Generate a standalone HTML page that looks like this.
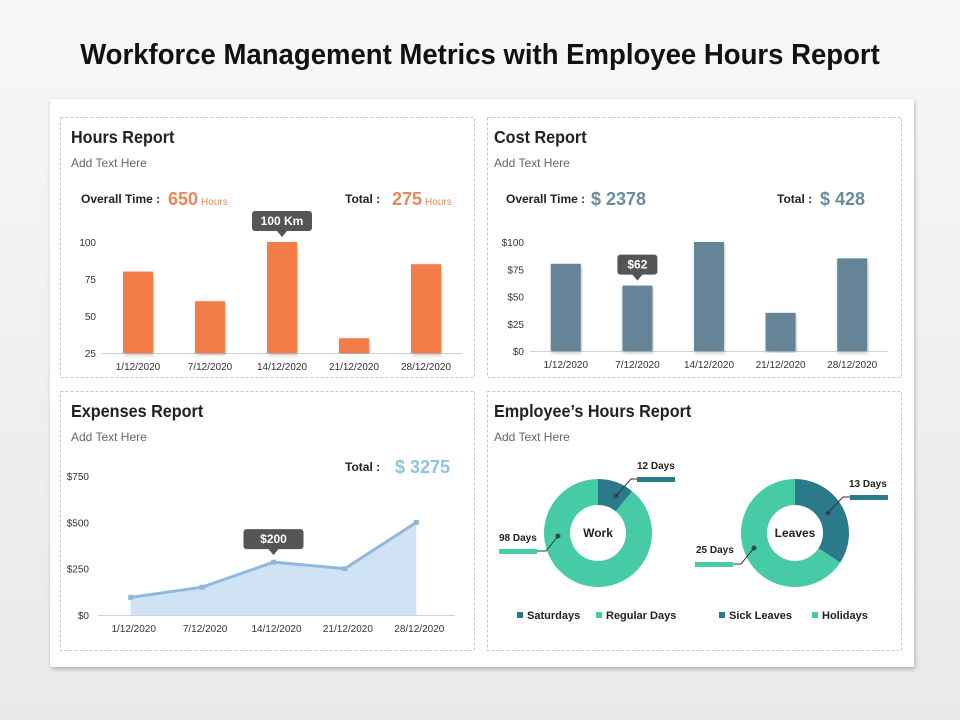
<!DOCTYPE html>
<html><head><meta charset="utf-8"><style>
body{margin:0;width:960px;height:720px;background:linear-gradient(#f7f7f7,#e9e9e9);font-family:"Liberation Sans",sans-serif;overflow:hidden}
svg{position:absolute;left:0;top:0}
</style></head><body>
<svg id="s" width="960" height="720" viewBox="0 0 960 720" font-family="Liberation Sans, sans-serif">
<defs><filter id="sh" x="-5%" y="-5%" width="110%" height="110%"><feDropShadow dx="1" dy="2" stdDeviation="2" flood-color="#000" flood-opacity="0.25"/></filter></defs>
<text x="480" y="64" text-anchor="middle" font-size="29" font-weight="bold" fill="#111" transform="translate(480 0) scale(0.95 1) translate(-480 0)">Workforce Management Metrics with Employee Hours Report</text>
<rect x="50" y="99" width="864" height="568" fill="#fff" filter="url(#sh)"/>
<g fill="none" stroke="#c8c8c8" stroke-dasharray="3,2">
<rect x="60.5" y="117.5" width="414" height="260"/>
<rect x="487.5" y="117.5" width="414" height="260"/>
<rect x="60.5" y="391.5" width="414" height="259"/>
<rect x="487.5" y="391.5" width="414" height="259"/>
</g>
<g font-weight="bold" font-size="18" fill="#222">
<text x="71" y="143" transform="translate(71 0) scale(0.9 1) translate(-71 0)">Hours Report</text>
<text x="494" y="143" transform="translate(494 0) scale(0.9 1) translate(-494 0)">Cost Report</text>
<text x="71" y="417" transform="translate(71 0) scale(0.9 1) translate(-71 0)">Expenses Report</text>
<text x="494" y="417" transform="translate(494 0) scale(0.9 1) translate(-494 0)">Employee’s Hours Report</text>
</g>
<g font-size="12" fill="#666">
<text x="71" y="167">Add Text Here</text>
<text x="494" y="167">Add Text Here</text>
<text x="71" y="441">Add Text Here</text>
<text x="494" y="441">Add Text Here</text>
</g>
<g font-size="12" font-weight="bold" fill="#222">
<text x="81" y="203">Overall Time :</text>
<text x="345" y="203">Total :</text>
<text x="506" y="203">Overall Time :</text>
<text x="777" y="203">Total :</text>
<text x="345" y="471">Total :</text>
</g>
<g font-weight="bold" font-size="18">
<text x="168" y="205" fill="#e8875a">650<tspan font-size="10" font-weight="normal" dx="3">Hours</tspan></text>
<text x="392" y="205" fill="#e8875a">275<tspan font-size="10" font-weight="normal" dx="3">Hours</tspan></text>
<text x="591" y="205" fill="#6a8a9e">$ 2378</text>
<text x="820" y="205" fill="#6a8a9e">$ 428</text>
<text x="395" y="473" fill="#8fc3e0">$ 3275</text>
</g>
<g id="charts"></g>
</svg>
<script>
const dates=["1/12/2020","7/12/2020","14/12/2020","21/12/2020","28/12/2020"];
const hoursValues=[80,60,100,35,85];
const hoursTicks=[25,50,75,100];
const costValues=[80,60,100,35,85];
const costTicks=[0,25,50,75,100];
const expenseValues=[95,150,285,250,500];
const expenseTicks=[0,250,500,750];
const workSlices=[12,98];
const leaveSlices=[13,25];
const NS="http://www.w3.org/2000/svg",G=document.getElementById("charts");
function mk(t,a,txt){const e=document.createElementNS(NS,t);for(const k in a)e.setAttribute(k,a[k]);if(txt!==undefined)e.textContent=txt;G.appendChild(e);return e;}
function callout(cx,tipY,label,w){
 const g=mk("path",{d:`M${cx-w/2} ${tipY-28}h${w}a3 3 0 0 1 3 3v14a3 3 0 0 1-3 3h-${w/2-5}l-5 6l-5-6h-${w/2-5}a3 3 0 0 1-3-3v-14a3 3 0 0 1 3-3z`,fill:"#555"});
 
 
 const t=mk("text",{x:cx,y:tipY-14,"text-anchor":"middle","font-size":12,"font-weight":"bold",fill:"#fff"},label);
 
 
}
function barChart(vals,ticks,min,max,y0,y1,x0,x1,color,tickFmt,prefix,calloutIdx,calloutLbl,cw){
 const ys=v=>y0-(v-min)/(max-min)*(y0-y1);
 const step=(x1-x0)/vals.length;
 const ax=mk("line",{x1:x0,x2:x1,y1:y0+0.5,y2:y0+0.5,stroke:"#d0d0d0"});
 
 
 ticks.forEach(t=>{const e=mk("text",{x:x0-6,y:ys(t)+4,"text-anchor":"end","font-size":10,fill:"#333"},tickFmt(t));
  
  });
 vals.forEach((v,i)=>{const cx=x0+step*(i+0.5);
  const r=mk("rect",{x:cx-15,y:ys(v),width:30,height:y0-ys(v),fill:color,filter:"url(#sh)"});
  
  
  const l=mk("text",{x:cx,y:y0+17,"text-anchor":"middle","font-size":10,fill:"#333"},dates[i]);
  
  
  if(i===calloutIdx)callout(cx,ys(v)-3,calloutLbl,cw);
 });
}
barChart(hoursValues,hoursTicks,25,100,353,242,102,462,"#f47c48",t=>t,"hours",2,"100 Km",54);
barChart(costValues,costTicks,0,100,351,242,530,888,"#658497",t=>"$"+t,"cost",1,"$62",34);
(function(){
 const y0=615,y1=476,x0=98,x1=455,step=(x1-x0)/expenseValues.length;
 const ys=v=>y0-v/750*(y0-y1),xs=i=>x0+step*(i+0.5)-3;
 const ax=mk("line",{x1:x0,x2:x1,y1:y0+0.5,y2:y0+0.5,stroke:"#d0d0d0"});
 
 
 expenseTicks.forEach(t=>{const e=mk("text",{x:89,y:ys(t)+4,"text-anchor":"end","font-size":10,fill:"#333"},"$"+t);
  
  });
 let pts=expenseValues.map((v,i)=>xs(i)+","+ys(v)).join(" ");
 const a=mk("polygon",{points:xs(0)+","+y0+" "+pts+" "+xs(4)+","+y0,fill:"#cfe3f5"});
 
 
 const l=mk("polyline",{points:pts,fill:"none",stroke:"#8fb8dc","stroke-width":3});
 
 
 expenseValues.forEach((v,i)=>{const p=mk("rect",{x:xs(i)-2.5,y:ys(v)-2.5,width:5,height:5,fill:"#8fb8dc"});
  
  
  const t=mk("text",{x:x0+step*(i+0.5),y:y0+17,"text-anchor":"middle","font-size":10,fill:"#333"},dates[i]);
  
  });
 callout(xs(2),ys(expenseValues[2])-5,"$200",54);
})();
function donut(cx,cy,vals,colors,center,prefix,labels){
 const tot=vals.reduce((a,b)=>a+b,0);let a0=-Math.PI/2;const R=54,r=28;
 vals.forEach((v,i)=>{const a1=a0+v/tot*2*Math.PI,lg=(a1-a0)>Math.PI?1:0;
  const P=(rr,a)=>[cx+rr*Math.cos(a),cy+rr*Math.sin(a)];
  const [x1,y1]=P(R,a0),[x2,y2]=P(R,a1),[x3,y3]=P(r,a1),[x4,y4]=P(r,a0);
  const s=mk("path",{d:`M${x1} ${y1}A${R} ${R} 0 ${lg} 1 ${x2} ${y2}L${x3} ${y3}A${r} ${r} 0 ${lg} 0 ${x4} ${y4}Z`,fill:colors[i]});
  
  
  a0=a1;});
 const t=mk("text",{x:cx,y:cy+4,"text-anchor":"middle","font-size":12,"font-weight":"bold",fill:"#222"},center);
 
 
 labels.forEach(L=>{
  mk("circle",{cx:L.dx,cy:L.dy,r:2.5,fill:"#2d4a55"});
  mk("polyline",{points:L.line,fill:"none",stroke:"#333","stroke-width":1});
  const b=mk("rect",{x:L.bx,y:L.by,width:38,height:5,fill:L.c});
  
  
  const e=mk("text",{x:L.tx,y:L.ty,"font-size":10,"font-weight":"bold",fill:"#222"},L.txt);
  
  
 });
}
donut(598,533,workSlices,["#2b7a8c","#46cba6"],"Work","work",[
 {dx:616,dy:496,line:"616,496 631,479 637,479",bx:637,by:477,c:"#2b7a8c",tx:637,ty:469,txt:workSlices[0]+" Days"},
 {dx:558,dy:536,line:"558,536 546,551 537,551",bx:499,by:549,c:"#46cba6",tx:499,ty:541,txt:workSlices[1]+" Days"}]);
donut(795,533,leaveSlices,["#2b7a8c","#46cba6"],"Leaves","leaves",[
 {dx:828,dy:513,line:"828,513 843,497 850,497",bx:850,by:495,c:"#2b7a8c",tx:849,ty:487,txt:leaveSlices[0]+" Days"},
 {dx:754,dy:548,line:"754,548 741,564 733,564",bx:695,by:562,c:"#46cba6",tx:696,ty:553,txt:leaveSlices[1]+" Days"}]);
[["Saturdays",517,"#2b7a8c"],["Regular Days",596,"#46cba6"],["Sick Leaves",719,"#2b7a8c"],["Holidays",812,"#46cba6"]].forEach(l=>{
 const r=mk("rect",{x:l[1],y:612,width:6,height:6,fill:l[2]});
 
 
 const t=mk("text",{x:l[1]+10,y:619,"font-size":11,"font-weight":"bold",fill:"#222"},l[0]);
 
 
});
</script>
</body></html>
